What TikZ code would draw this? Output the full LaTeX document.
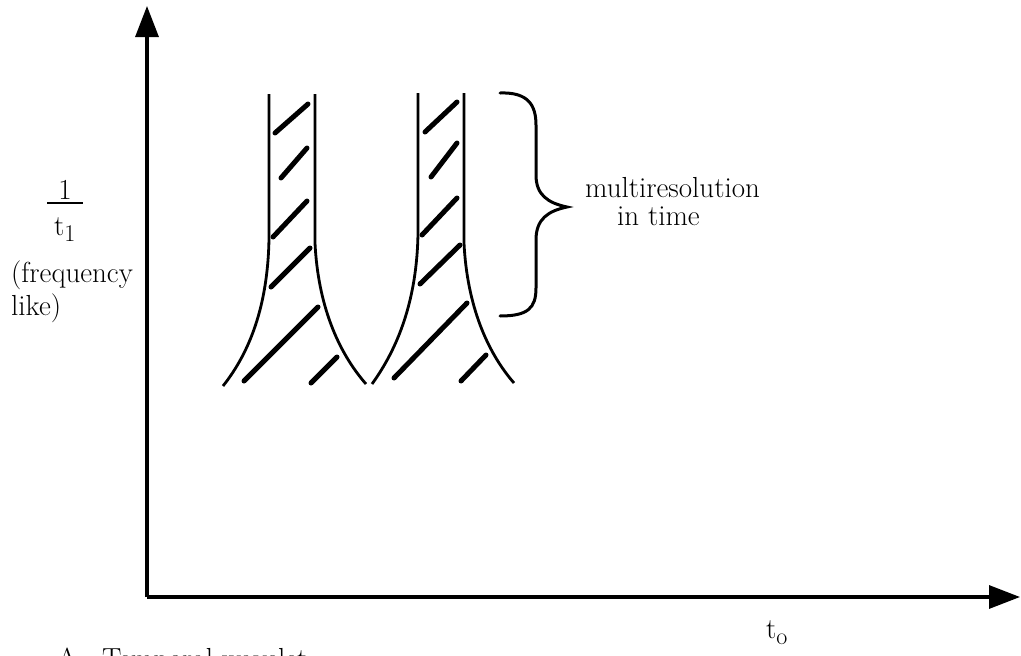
\documentclass[tikz,border=0pt]{standalone}
\usepackage{fontspec}
\usetikzlibrary{arrows.meta}
\tikzset{
  axis/.style={line width=3.2pt, -{Triangle[length=31pt,width=23pt]}},
  edge/.style={line width=2.8pt},
  hatch/.style={line width=5pt, line cap=round},
  bracepath/.style={line width=3pt, line cap=round},
  lbl/.style={inner sep=0pt, font=\fontsize{29}{32}\selectfont},
}
\newcommand{\subs}[1]{\raisebox{-0.22em}{\fontsize{24}{24}\selectfont #1}}
\begin{document}
\begin{tikzpicture}[x=1pt,y=-1pt]
\useasboundingbox (0,0) rectangle (1021,656);
% axes
\coordinate (O) at (147,597);
\coordinate (ytip) at (147,6);
\coordinate (xtip) at (1020,597);
\draw[axis] (O) -- (ytip);
\draw[axis] (O) -- (xtip);
% shape 1
\draw[edge] (269,94) -- (269,238) .. controls (268,305) and (250,352) .. (223,386);
\draw[edge] (315,94) -- (315,243) .. controls (318,305) and (338,352) .. (366,384);
% shape 2
\draw[edge] (418,93) -- (418,233) .. controls (417,300) and (398,348) .. (372,384);
\draw[edge] (464,93) -- (464,243) .. controls (467,305) and (487,352) .. (514,383);
% hatching shape 1
\draw[hatch] (275,133) -- (308,104);
\draw[hatch] (281,178) -- (307,148);
\draw[hatch] (273,237) -- (307,201);
\draw[hatch] (271,287) -- (310,248);
\draw[hatch] (244,381) -- (318,307);
\draw[hatch] (311,383) -- (337,357);
% hatching shape 2
\draw[hatch] (425,132) -- (457,102);
\draw[hatch] (431,177) -- (457,143);
\draw[hatch] (422,235) -- (457,198);
\draw[hatch] (420,284) -- (460,245);
\draw[hatch] (394,378) -- (467,303);
\draw[hatch] (461,381) -- (486,355);
% brace
\draw[bracepath] (500,93) .. controls (528,92) and (536,105) .. (536,125) -- (536,175)
  .. controls (536,195) and (548,203) .. (567,207)
  .. controls (548,211) and (536,219) .. (536,240) -- (536,288)
  .. controls (536,308) and (528,316) .. (500,316);
% labels
\node[lbl, anchor=base] (one) at (65,199) {1};
\draw[line width=2.5pt] (47,203) -- (83,203);
\node[lbl, anchor=base west] (tone) at (54,235) {t\subs{1}};
\node[lbl, anchor=base west] (freq) at (11,282) {(frequency};
\node[lbl, anchor=base west] (like) at (11,315) {like)};
\node[lbl, anchor=base west] (multi) at (585,197) {multiresolution};
\node[lbl, anchor=base west] (intime) at (617,225) {in time};
\node[lbl, anchor=base west] (tzero) at (766,638) {t\subs{o}};
\node[lbl, anchor=base west] (caption) at (57,668) {A.\ \ Temporal wavelet};
\end{tikzpicture}
\end{document}
